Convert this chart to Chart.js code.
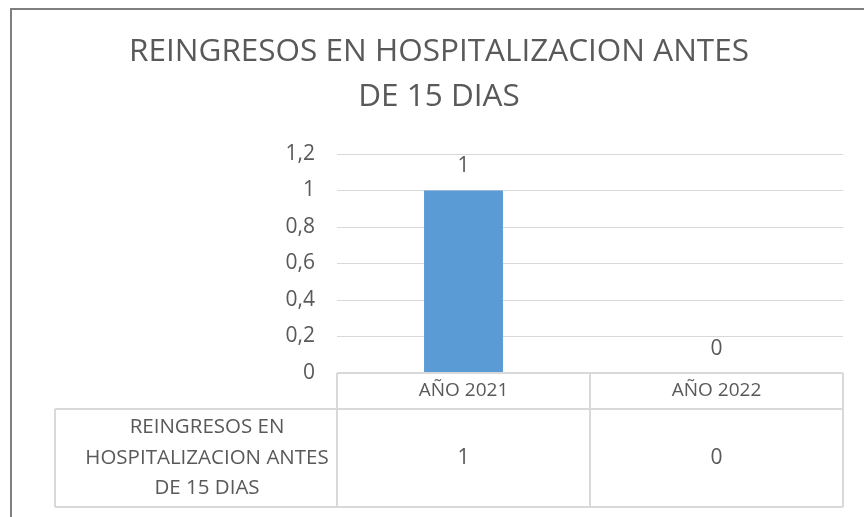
<!DOCTYPE html>
<html>
<head>
<meta charset="utf-8">
<script src="https://cdn.jsdelivr.net/npm/chart.js@4/dist/chart.umd.min.js"></script>
<style>
  html, body { margin: 0; padding: 0; background: #fff; }
  #wrap { width: 864px; height: 517px; }
</style>
</head>
<body>
<div id="wrap"><canvas id="chart" width="864" height="517"></canvas></div>
<script>
// ---------------- data block ----------------
const titleLines = ["REINGRESOS EN HOSPITALIZACION ANTES", "DE 15 DIAS"];
const categories = ["AÑO 2021", "AÑO 2022"];
const seriesLabel = ["REINGRESOS EN", "HOSPITALIZACION ANTES", "DE 15 DIAS"];
const values = [1, 0];
const yMin = 0, yMax = 1.2, yStep = 0.2;

const textColor = "#595959";
const lineColor = "#d9d9d9";
const fontFamily = "'Open Sans', sans-serif";

function fmt(v) {
  return String(Math.round(v * 10) / 10).replace(".", ",");
}

// ---------------- frame + title ----------------
const frame = {
  id: "frame",
  beforeDraw(chart) {
    const ctx = chart.ctx;
    ctx.save();
    ctx.strokeStyle = "#7f7f7f";
    ctx.lineWidth = 2;
    ctx.beginPath();
    ctx.moveTo(11, 517);
    ctx.lineTo(11, 9);
    ctx.lineTo(864, 9);
    ctx.stroke();

    ctx.fillStyle = textColor;
    ctx.font = "31.5px " + fontFamily;
    ctx.textAlign = "center";
    ctx.textBaseline = "middle";
    titleLines.forEach((t, i) => ctx.fillText(t, 439, 52 + i * 45));
    ctx.restore();
  },
};

// ---------------- value labels above bars ----------------
const barLabels = {
  id: "barLabels",
  afterDatasetsDraw(chart) {
    const ctx = chart.ctx;
    const meta = chart.getDatasetMeta(0);
    ctx.save();
    ctx.fillStyle = textColor;
    ctx.font = "21px " + fontFamily;
    ctx.textAlign = "center";
    ctx.textBaseline = "middle";
    meta.data.forEach((el, i) => {
      ctx.fillText(fmt(values[i]), el.x, el.y - 24);
    });
    ctx.restore();
  },
};

// ---------------- data table under the axis ----------------
const dataTable = {
  id: "dataTable",
  afterDraw(chart) {
    const ctx = chart.ctx;
    const x = chart.scales.x;
    const area = chart.chartArea;
    const colW = area.width / categories.length;
    const top = area.bottom;
    const mid = top + 36;
    const bottom = 507;
    const labelLeft = 55;

    ctx.save();
    ctx.strokeStyle = lineColor;
    ctx.lineWidth = 2;
    ctx.beginPath();
    ctx.moveTo(area.left, top); ctx.lineTo(area.right, top);
    ctx.moveTo(labelLeft, mid); ctx.lineTo(area.right, mid);
    ctx.moveTo(labelLeft, bottom); ctx.lineTo(area.right, bottom);
    ctx.moveTo(labelLeft, mid); ctx.lineTo(labelLeft, bottom);
    for (let i = 0; i <= categories.length; i++) {
      const cx = area.left + i * colW;
      ctx.moveTo(cx, top); ctx.lineTo(cx, bottom);
    }
    ctx.stroke();

    ctx.fillStyle = textColor;
    ctx.textAlign = "center";
    ctx.textBaseline = "middle";
    ctx.font = "19px " + fontFamily;
    categories.forEach((c, i) => {
      ctx.fillText(c, x.getPixelForValue(i), (top + mid) / 2);
    });
    ctx.font = "21px " + fontFamily;
    values.forEach((v, i) => {
      ctx.fillText(fmt(v), x.getPixelForValue(i), (mid + bottom) / 2);
    });
    ctx.font = "20.5px " + fontFamily;
    const lx = (labelLeft + area.left) / 2 + 11;
    const ly = (mid + bottom) / 2;
    seriesLabel.forEach((t, i) => {
      ctx.fillText(t, lx, ly + (i - 1) * 30.5);
    });
    ctx.restore();
  },
};

// ---------------- chart ----------------
new Chart(document.getElementById("chart"), {
  type: "bar",
  data: {
    labels: categories,
    datasets: [{
      label: seriesLabel.join(" "),
      data: values,
      backgroundColor: "#5b9bd5",
      borderWidth: 0,
      categoryPercentage: 1,
      barPercentage: 0.312,
    }],
  },
  options: {
    responsive: false,
    animation: false,
    layout: { padding: { left: 257, right: 21, top: 154, bottom: 144 } },
    plugins: {
      legend: { display: false },
      title: { display: false },
      tooltip: { enabled: false },
    },
    scales: {
      x: { display: false },
      y: {
        min: yMin,
        max: yMax,
        afterFit(scale) { scale.width = 80; },
        border: { display: false },
        grid: { color: lineColor, lineWidth: 1, drawTicks: false },
        ticks: {
          stepSize: yStep,
          padding: 22,
          color: textColor,
          font: { family: "'Open Sans', sans-serif", size: 21 },
          callback: (v) => fmt(v),
        },
      },
    },
  },
  plugins: [frame, barLabels, dataTable],
});
</script>
</body>
</html>
